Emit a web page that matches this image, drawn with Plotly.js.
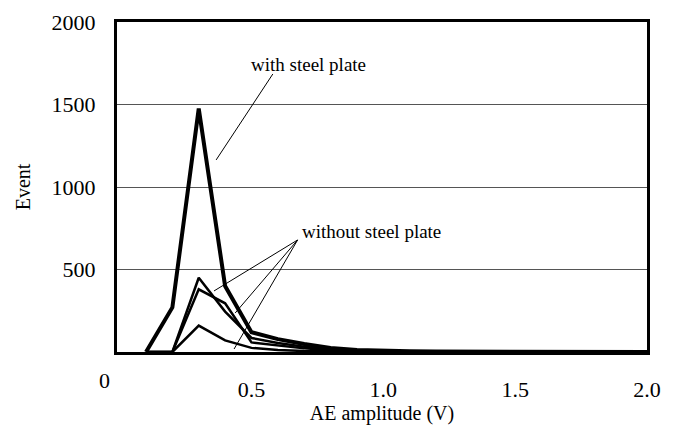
<!DOCTYPE html>
<html>
<head>
<meta charset="utf-8">
<script src="https://cdn.plot.ly/plotly-3.0.1.min.js"></script>
<style>html,body{margin:0;padding:0;background:#fff;}#chart{width:673px;height:436px;}</style>
</head>
<body>
<div id="chart"></div>
<script>
// AE amplitude bins (V)
const amplitude = [0.1,0.2,0.3,0.4,0.5,0.6,0.7,0.8,0.9,1.0,1.1,1.2,1.3,1.4,1.5,1.6,1.7,1.8,1.9,2.0];
// Event counts
const withPlate   = [0,270,1475,400,120,78,48,25,12,6,4,3,3,2,2,2,1,1,0,0];
const withoutA    = [0,0,450,245,85,55,32,15,6,3,2,1,1,1,0,0,0,0,0,0];
const withoutB    = [0,0,380,295,58,40,22,10,4,2,1,1,0,0,0,0,0,0,0,0];
const withoutC    = [0,0,160,70,25,12,6,3,1,0,0,0,0,0,0,0,0,0,0,0];

const xTickVals = [0.5,1.0,1.5,2.0];
const xTickText = ['0.5','1.0','1.5','2.0'];
const yTickVals = [500,1000,1500,2000];
const yTickText = ['500','1000','1500','2000'];

const labelWith = 'with steel plate';
const labelWithout = 'without steel plate';

const font = 'Liberation Serif';

function tr(y, w){
  return {x: amplitude, y: y, type:'scatter', mode:'lines',
    line:{color:'#000', width:w}, hoverinfo:'skip', showlegend:false};
}

const data = [tr(withoutC,2.5), tr(withoutB,2.5), tr(withoutA,2.5), tr(withPlate,4)];

// leader lines (annotation pointers) in data coordinates
const leaderWith = {from:[0.581,1685], to:[0.366,1164]};
const leaderWithoutFrom = [0.675,679];
const leaderWithoutTo = [[0.358,370],[0.438,236],[0.434,18]];

const shapes = [];
shapes.push({type:'line', xref:'x', yref:'y', x0:leaderWith.from[0], y0:leaderWith.from[1],
  x1:leaderWith.to[0], y1:leaderWith.to[1], line:{color:'#000', width:1}});
leaderWithoutTo.forEach(p => shapes.push({type:'line', xref:'x', yref:'y',
  x0:leaderWithoutFrom[0], y0:leaderWithoutFrom[1], x1:p[0], y1:p[1], line:{color:'#000', width:1}}));

const layout = {
  width:673, height:436,
  margin:{l:117, r:26, t:22, b:84},
  paper_bgcolor:'#fff', plot_bgcolor:'#fff',
  font:{family:font, color:'#000', size:20},
  xaxis:{range:[-0.01,2.0], tickvals:xTickVals, ticktext:xTickText, ticks:'', ticklabelstandoff:16,
    showgrid:false, zeroline:false, showline:true, mirror:true, linewidth:3, linecolor:'#000',
    tickfont:{family:font, size:22},
    title:{text:'AE amplitude (V)', font:{family:font, size:20}, standoff:4}},
  yaxis:{range:[0,2000], tickvals:yTickVals, ticktext:yTickText, ticks:'', ticklabelstandoff:14,
    showgrid:true, gridcolor:'#555', gridwidth:1, zeroline:false, showline:true, mirror:true,
    linewidth:3, linecolor:'#000', tickfont:{family:font, size:22},
    title:{text:'Event', font:{family:font, size:20}, standoff:16}},
  shapes: shapes,
  annotations:[
    {text:labelWith, xref:'x', yref:'y', x:0.717, y:1745, showarrow:false, font:{family:font, size:19}},
    {text:labelWithout, xref:'x', yref:'y', x:0.955, y:733, showarrow:false, font:{family:font, size:19}},
    {text:'0', xref:'paper', yref:'paper', x:-0.023, y:-0.085, xanchor:'center', yanchor:'middle',
     showarrow:false, font:{family:font, size:22}}
  ]
};

Plotly.newPlot('chart', data, layout, {staticPlot:true, displayModeBar:false});
</script>
</body>
</html>
